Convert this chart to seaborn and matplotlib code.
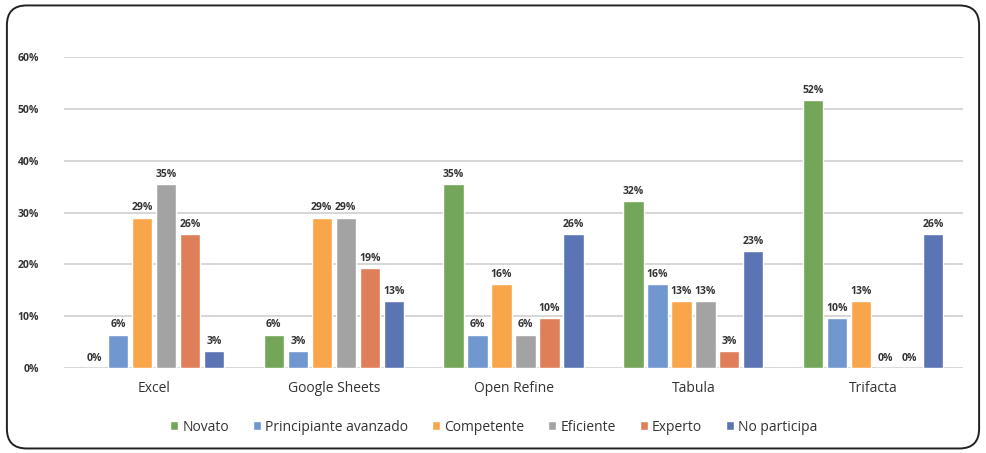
import matplotlib
matplotlib.use("Agg")
import matplotlib.pyplot as plt
from matplotlib.patches import FancyBboxPatch
import seaborn as sns
import pandas as pd

# datos (proporciones, n=31)
herramientas = ["Excel", "Google Sheets", "Open Refine", "Tabula", "Trifacta"]
niveles = ["Novato", "Principiante avanzado", "Competente", "Eficiente", "Experto", "No participa"]

novato = [0.0, 0.0645, 0.3548, 0.3226, 0.5161]
principiante = [0.0645, 0.0323, 0.0645, 0.1613, 0.0968]
competente = [0.2903, 0.2903, 0.1613, 0.1290, 0.1290]
eficiente = [0.3548, 0.2903, 0.0645, 0.1290, 0.0]
experto = [0.2581, 0.1935, 0.0968, 0.0323, 0.0]
no_participa = [0.0323, 0.1290, 0.2581, 0.2258, 0.2581]

colores = ["#74A65A", "#7097CF", "#F9A64A", "#A3A3A3", "#DF7F59", "#5B74B3"]

series = [novato, principiante, competente, eficiente, experto, no_participa]
rows = []
for nivel, vals in zip(niveles, series):
    for h, v in zip(herramientas, vals):
        rows.append({"herramienta": h, "nivel": nivel, "valor": v})
df = pd.DataFrame(rows)

sns.set_style("white")
plt.rcParams["font.family"] = ["Open Sans", "DejaVu Sans"]

fig = plt.figure(figsize=(9.86, 4.53), dpi=100)
ax = fig.add_axes([0.065, 0.1876, 0.9117, 0.6866])

# marco redondeado
marco = FancyBboxPatch((0.007, 0.01), 0.986, 0.978, boxstyle="round,pad=0,rounding_size=0.02",
                       transform=fig.transFigure, fill=False, edgecolor="#222222", linewidth=1.4,
                       mutation_aspect=986 / 453)
fig.patches.append(marco)

sns.barplot(data=df, x="herramienta", y="valor", hue="nivel", order=herramientas,
            hue_order=niveles, palette=colores, width=0.8, gap=0.15, ax=ax,
            saturation=1, errorbar=None, legend=True)

for cont in ax.containers:
    ax.bar_label(cont, labels=[f"{v:.0%}" for v in cont.datavalues], padding=3,
                 fontsize=7.5, fontweight="bold", color="#333333")

ax.set_ylim(0, 0.6)
ax.set_yticks([0, 0.1, 0.2, 0.3, 0.4, 0.5, 0.6])
ax.set_yticklabels([f"{t}%" for t in range(0, 70, 10)], fontsize=7.5, fontweight="bold", color="#333333")
ax.set_xlim(-0.5, 4.5)
ax.yaxis.grid(True, color="#CFCFCF", linewidth=1.2)
ax.set_axisbelow(True)
ax.tick_params(axis="both", length=0)
ax.tick_params(axis="y", pad=18)
ax.tick_params(axis="x", pad=9, labelsize=10, labelcolor="#333333")
ax.set_xlabel("")
ax.set_ylabel("")
sns.despine(ax=ax, left=True, bottom=True)

ax.legend(loc="center", bbox_to_anchor=(0.478, -0.19), ncol=6, frameon=False,
          fontsize=10, handlelength=0.6, handleheight=0.6, handletextpad=0.3, columnspacing=1.7,
          labelcolor="#333333")

fig.savefig("out.png", dpi=100)
